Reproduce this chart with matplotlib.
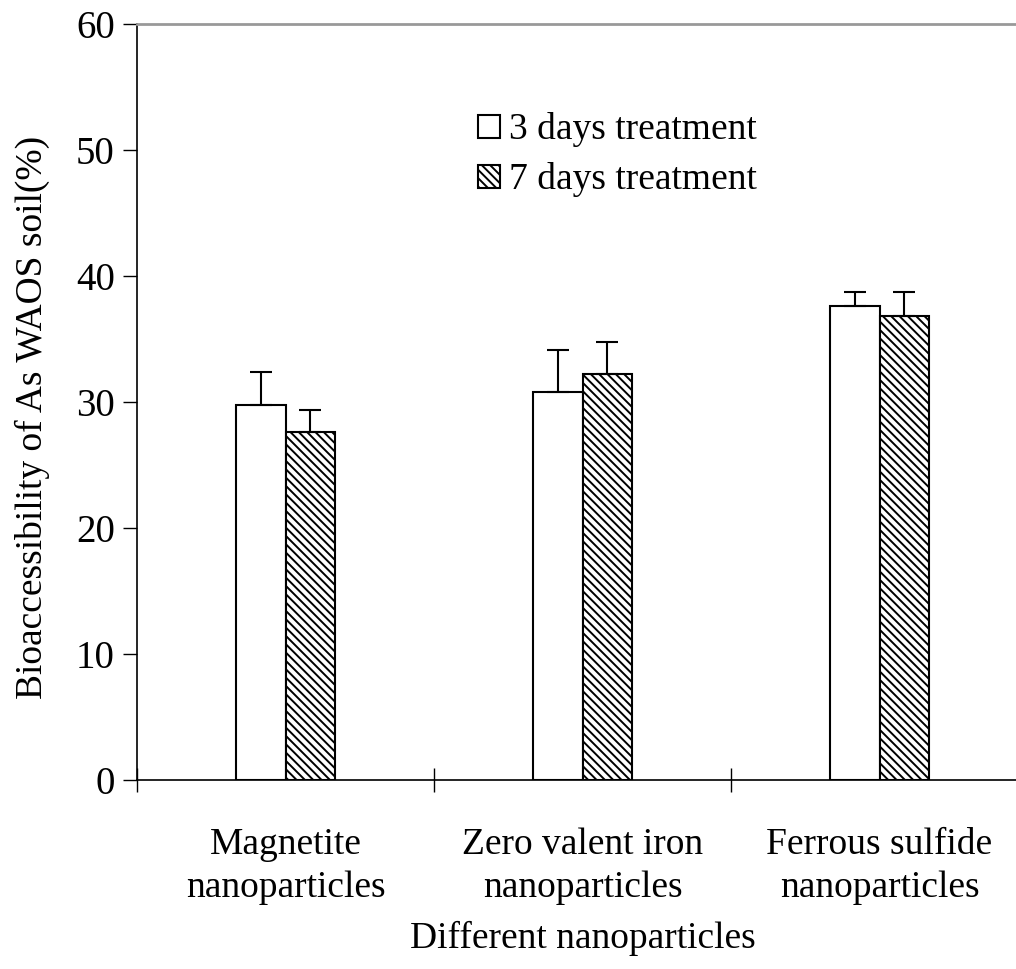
import numpy as np
import matplotlib.pyplot as plt
import matplotlib as mpl

mpl.rcParams['font.family'] = ['Liberation Serif', 'DejaVu Serif']
mpl.rcParams['hatch.linewidth'] = 1.4

# data
categories = ['Magnetite\nnanoparticles', 'Zero valent iron\nnanoparticles', 'Ferrous sulfide\nnanoparticles']
day3 = [29.8, 30.8, 37.6]
day3_err = [2.6, 3.3, 1.1]
day7 = [27.6, 32.2, 36.8]
day7_err = [1.8, 2.6, 1.9]
series_names = ['3 days treatment', '7 days treatment']

fig = plt.figure(figsize=(10.16, 9.69), dpi=100)
ax = fig.add_axes([137/1016, 1-780/969, 891/1016, 756/969])

x = np.arange(len(categories))
w = 0.165
zeros = [0, 0, 0]
ekw = dict(ecolor='black', elinewidth=1.5, capsize=8, capthick=1.5)
ax.bar(x - w/2, day3, w, color='white', edgecolor='black', linewidth=1.5,
       yerr=[zeros, day3_err], error_kw=ekw, label=series_names[0])
ax.bar(x + w/2, day7, w, color='white', edgecolor='black', linewidth=1.5, hatch='\\\\\\\\',
       yerr=[zeros, day7_err], error_kw=ekw, label=series_names[1])

ax.set_xlim(-0.5, 2.5)
ax.set_ylim(0, 60)
ax.set_yticks(range(0, 61, 10))
ax.set_xticks(np.arange(-0.5, 3, 1))
ax.set_xticklabels([])
ax.set_xticks(x, minor=True)
ax.set_xticklabels(categories, minor=True, fontsize=27, linespacing=1.35)
ax.tick_params(axis='x', which='minor', length=0, pad=34)
ax.tick_params(axis='x', which='major', direction='inout', length=17, width=1)
ax.tick_params(axis='y', direction='out', length=10, width=1, labelsize=28, pad=6)

ax.spines['top'].set_color('#999999')
ax.spines['top'].set_linewidth(2)
ax.spines['right'].set_visible(False)
ax.spines['left'].set_linewidth(1.2)
ax.spines['bottom'].set_linewidth(1.2)

ax.set_ylabel('Bioaccessibility of As WAOS soil(%)', fontsize=27)
ax.yaxis.set_label_coords(-0.098, 0.48)
ax.set_xlabel('Different nanoparticles', fontsize=27, labelpad=11)

ax.legend(loc='center left', bbox_to_anchor=(0.383, 0.827), frameon=False, fontsize=27,
          handlelength=0.57, handleheight=0.57, handletextpad=0.25, labelspacing=0.4,
          borderpad=0, borderaxespad=0)

fig.savefig('out.png', dpi=100)
